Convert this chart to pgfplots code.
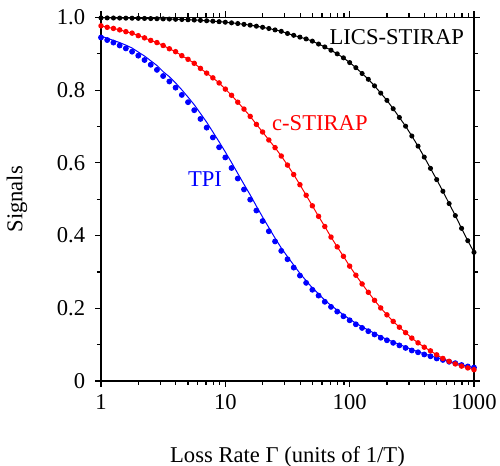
\documentclass[border=0pt]{standalone}
\usepackage{pgfplots}
\pgfplotsset{compat=1.18}
\usepackage{pgfplotstable}
\usepackage{fontspec}
\setmainfont{Liberation Serif}

\pgfplotstableread{
x       black   red    bdot   bline
1       0.9989  0.977  0.945  0.949
1.122   0.9988  0.973  0.938  0.943
1.259   0.9986  0.970  0.931  0.937
1.413   0.9984  0.966  0.923  0.931
1.585   0.9982  0.961  0.915  0.924
1.778   0.9980  0.957  0.906  0.916
1.995   0.9977  0.950  0.895  0.905
2.239   0.9974  0.944  0.883  0.894
2.512   0.9970  0.937  0.870  0.881
2.818   0.9966  0.931  0.856  0.868
3.162   0.9962  0.923  0.839  0.851
3.548   0.9957  0.914  0.824  0.837
3.981   0.9951  0.906  0.807  0.820
4.467   0.9945  0.895  0.787  0.801
5.012   0.9938  0.885  0.767  0.781
5.623   0.9930  0.874  0.745  0.760
6.310   0.9921  0.860  0.721  0.736
7.079   0.9910  0.847  0.697  0.712
7.943   0.9898  0.834  0.670  0.685
8.913   0.9885  0.820  0.643  0.658
10      0.9870  0.803  0.615  0.630
11.22   0.9853  0.786  0.586  0.601
12.59   0.9834  0.767  0.557  0.571
14.13   0.9812  0.748  0.527  0.541
15.85   0.9789  0.728  0.499  0.512
17.78   0.9761  0.706  0.469  0.481
19.95   0.9731  0.685  0.440  0.451
22.39   0.9697  0.663  0.412  0.422
25.12   0.9658  0.642  0.384  0.393
28.18   0.962   0.619  0.358  0.366
31.62   0.956   0.594  0.335  0.342
35.48   0.951   0.568  0.312  0.319
39.81   0.946   0.540  0.290  0.296
44.67   0.941   0.511  0.270  0.276
50.12   0.935   0.482  0.251  0.256
56.23   0.927   0.453  0.235  0.240
63.10   0.919   0.425  0.218  0.222
70.79   0.910   0.396  0.204  0.208
79.43   0.900   0.369  0.191  0.195
89.13   0.889   0.343  0.178  0.182
100     0.876   0.316  0.167  0.170
112.2   0.862   0.291  0.156  0.159
125.9   0.846   0.267  0.146  0.149
141.3   0.830   0.244  0.137  0.140
158.5   0.812   0.222  0.128  0.131
177.8   0.792   0.201  0.119  0.122
199.5   0.772   0.182  0.112  0.1145
223.9   0.749   0.164  0.105  0.1075
251.2   0.725   0.148  0.098  0.1005
281.8   0.701   0.133  0.091  0.0935
316.2   0.674   0.118  0.084  0.0865
354.8   0.646   0.105  0.079  0.0805
398.1   0.616   0.093  0.073  0.0745
446.7   0.585   0.083  0.068  0.0695
501.2   0.554   0.072  0.062  0.0635
562.3   0.522   0.062  0.058  0.0595
631.0   0.488   0.054  0.053  0.054
707.9   0.455   0.047  0.049  0.0498
794.3   0.420   0.041  0.044  0.0445
891.3   0.386   0.036  0.040  0.040
1000    0.354   0.031  0.037  0.037
}\datatable

\begin{document}
\fontsize{11.3}{13.5}\selectfont
\begin{tikzpicture}
\begin{axis}[
  scale only axis,
  width=186.5pt, height=181.75pt,
  xmode=log,
  xmin=1, xmax=1000,
  ymin=0, ymax=1,
  xtick={1,10,100,1000},
  xticklabels={1,10,100,1000},
  ytick={0,0.2,0.4,0.6,0.8,1.0},
  yticklabels={0,0.2,0.4,0.6,0.8,1.0},
  minor ytick={0.1,0.3,0.5,0.7,0.9},
  tick align=outside,
  major tick length=3pt,
  minor tick length=2pt,
  axis line style={line width=0.65pt},
  every tick/.style={black, line width=0.6pt},
  /pgf/number format/assume math mode=true,
  xticklabel style={font=\fontsize{11.3}{13.5}\selectfont},
  yticklabel style={font=\fontsize{11.3}{13.5}\selectfont, xshift=-1pt},
  xlabel={Loss Rate Γ (units of 1/T)},
  ylabel={Signals},
  every axis x label/.style={at={(axis description cs:0.5,-0.2242)}, anchor=base},
  every axis y label/.style={at={(axis description cs:-0.225,0.5)}, rotate=90, anchor=center},
  clip=false,
]
\addplot[blue, line width=0.5pt] table[x=x, y=bline] {\datatable};
\addplot[only marks, mark=*, mark size=1.25pt, blue, mark options={draw=blue, fill=blue}] table[x=x, y=bdot] {\datatable};
\addplot[red, line width=0.5pt, mark=*, mark size=1.1pt, mark options={fill=red}] table[x=x, y=red] {\datatable};
\addplot[black, line width=0.5pt, mark=*, mark size=1.0pt, mark options={fill=black}] table[x=x, y=black] {\datatable};
\node[anchor=base, black] at (axis cs:239.6,0.925) {LICS-STIRAP};
\node[anchor=base, red] at (axis cs:57.6,0.690) {c-STIRAP};
\node[anchor=base, blue] at (axis cs:6.86,0.5345) {TPI};
\end{axis}
\pgfresetboundingbox
\path ([shift={(-50.5pt,-42.5pt)}]current axis.south west) rectangle ([shift={(13pt,8.75pt)}]current axis.north east);
\end{tikzpicture}
\end{document}
